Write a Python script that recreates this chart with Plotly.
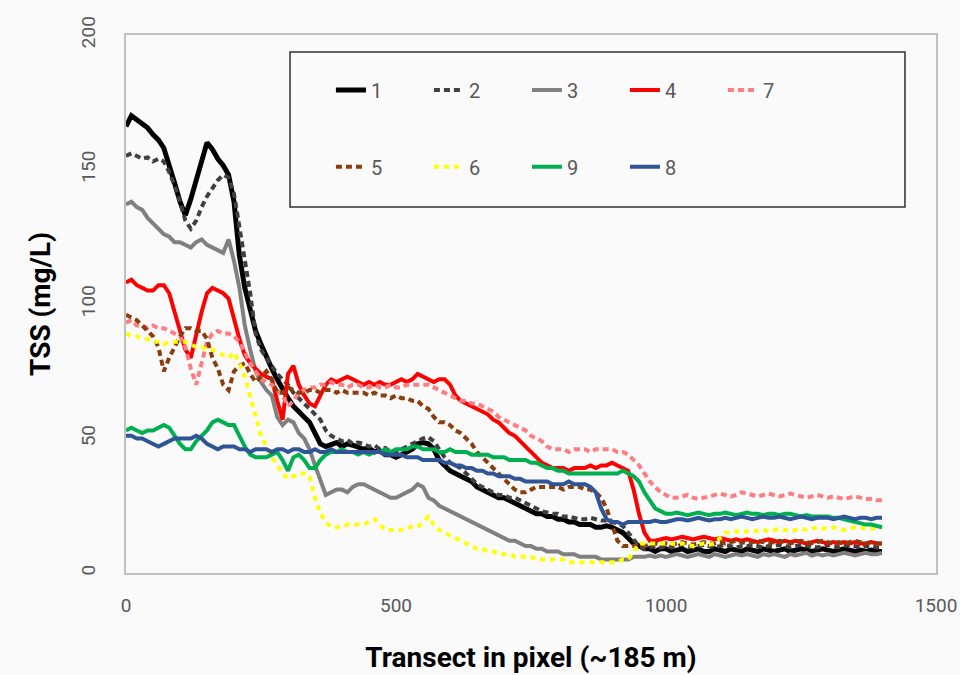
import plotly.graph_objects as go

# Transect positions (pixels), sampled every 10 px
transect_px = list(range(0, 1401, 10))

tss_1 = [166, 170, 168.5, 167, 165.5, 163, 161, 158, 152, 145,
         138, 133, 139, 146, 153, 160, 157.5, 154, 151.5, 148,
         138, 118, 106, 97, 90, 85, 80, 76, 72, 68,
         65, 62, 60, 58, 56, 52, 48, 47, 48, 48.5,
         47, 48, 47.5, 46.5, 46, 46.5, 45, 45.5, 44, 44,
         43, 44, 45, 46, 48, 48.5, 48, 46, 42, 40,
         38, 37, 36, 35, 34, 32, 31, 30, 29, 28,
         28, 27, 26, 25, 24, 23, 22, 22, 21, 21,
         20, 20, 19, 19, 18, 18, 18, 17, 17, 17.5,
         17, 16, 15, 13, 11, 10, 9, 9, 8, 9,
         9, 8, 8.5, 9, 8, 8.5, 9, 8, 8, 9,
         8.5, 8, 9, 8.5, 8, 9, 8.5, 8, 9, 8.5,
         8, 8.5, 9, 8, 8.5, 9, 8.5, 8, 8.5, 9,
         8.5, 8, 8.5, 9, 8.5, 8, 8.5, 8, 8.5, 8,
         8]

tss_2 = [155, 156, 155, 154, 154.5, 153, 154, 153, 149, 144,
         138, 131, 128, 131, 136, 140, 143, 146, 148, 147,
         141, 129, 115, 104, 89, 83, 80, 77, 74, 72,
         70, 67, 65, 63, 61, 59, 57, 53, 51, 50,
         49, 49.5, 48, 48.5, 48, 47, 47.5, 46, 46.5, 45,
         45, 46, 47, 48, 49, 50, 50.5, 49, 46, 43,
         41, 40, 39, 37, 35, 33, 32, 31, 30, 29,
         29, 28, 28, 27, 26, 25, 24, 23, 22.5, 22,
         22, 21, 21, 20.5, 20, 20, 20.5, 20, 19.5, 19.5,
         19, 18.5, 17.5, 15, 13, 10, 9, 9.5, 10, 9.5,
         10, 9.5, 10, 10.5, 10, 9.5, 10, 10.5, 10, 9.5,
         10, 10.5, 10, 9.5, 10, 10, 10.5, 10, 9.5, 10,
         10, 10.5, 10, 9.5, 10, 10.5, 10, 10, 9.5, 10,
         10.5, 10, 9.5, 10, 10.5, 10, 9.5, 10, 10, 9.5,
         9.5]

tss_3 = [137, 138, 136, 135, 132, 130, 128, 126, 125, 123,
         123, 122, 121, 123, 124, 122, 121, 120, 119, 124,
         116, 106, 92, 83, 75, 71, 68, 66, 58, 55,
         57, 56, 52, 50, 46, 40, 34, 29, 30, 31,
         31, 30, 32, 33, 33, 32, 31, 30, 29, 28,
         28, 29, 30, 31, 33, 32, 28, 27, 25, 24,
         23, 22, 21, 20, 19, 18, 17, 16, 15, 14,
         13, 12, 12, 11, 10, 10, 9, 9, 8, 8,
         8, 7, 7, 7, 6, 6, 6, 6, 5, 5,
         5, 5, 5, 5, 6, 6, 6, 6.5, 6, 6.5,
         6, 6.5, 7, 6.5, 6, 6.5, 7, 6.5, 6, 7,
         6.5, 6, 6.5, 7, 6.5, 7, 6.5, 6, 7, 6.5,
         7, 6.5, 6, 7, 6.5, 7, 7.5, 6.5, 7, 6.5,
         7, 6.5, 7, 7.5, 7, 6.5, 7, 7.5, 7, 7,
         7.5]

tss_4 = [108, 109, 107, 106, 105, 105, 107, 107, 104, 97,
         90, 83, 80, 89, 97, 104, 106, 105, 104, 102,
         94, 87, 81, 78, 76, 74, 73, 72, 64, 57,
         74, 77, 70, 66, 63, 62, 66, 70, 72, 71,
         72, 73, 72, 71, 70, 71, 70, 71, 70, 70,
         71, 72, 71, 72, 74, 73, 72, 71, 72, 72,
         70, 66, 64, 63, 62, 61, 60, 59, 57, 56,
         54, 52, 51, 49, 47, 45, 43, 41, 40, 39,
         39, 39, 38, 39, 39, 39, 40, 39, 40, 40,
         41, 40, 39, 38, 31, 22, 15, 12, 12, 12.5,
         13, 12.5, 13, 13.5, 13, 12.5, 13, 13.5, 13, 12.5,
         13, 12.5, 12, 12.5, 12, 12.5, 12, 11.5, 12, 12.5,
         12, 11.5, 12, 11.5, 12, 11.5, 11, 11.5, 12, 11.5,
         11, 11.5, 11, 11.5, 11, 11.5, 11, 11, 11.5, 11,
         11]

tss_7 = [93, 94, 92, 92, 91, 92, 91, 91, 90, 89,
         88, 84, 76, 70, 78, 86, 89, 90, 89, 89,
         88, 86, 82, 78, 75, 72, 71, 70, 68, 66,
         62, 64, 67, 68, 69, 69, 70, 70, 71, 70,
         70, 69, 70, 70, 69, 69, 70, 69, 69, 70,
         69, 69, 70, 70, 70, 70, 70, 69, 68, 67,
         66, 65, 64, 64, 63, 63, 62, 61, 60, 58,
         57, 56, 55, 54, 53, 51, 50, 49, 47, 46,
         46, 46, 45, 46, 46, 46, 45, 46, 46, 46,
         46, 45, 45, 44, 42, 40, 37, 34, 32, 30,
         29, 28, 28, 28.5, 29, 28, 27.5, 28, 28.5, 29,
         29.5, 29, 28.5, 29, 30, 29.5, 29, 28.5, 29, 29.5,
         29, 28.5, 29, 29.5, 29, 28.5, 28, 28.5, 29, 28.5,
         28, 28.5, 28, 27.5, 28, 28.5, 28, 27.5, 27.5, 27,
         27]

tss_5 = [96, 95, 94, 92, 90, 88, 84, 75, 80, 84,
         88, 91, 91, 90, 90, 87, 80, 76, 70, 68,
         75, 77, 78, 74, 71, 73, 75, 72, 67, 67,
         69, 68, 67, 67, 68, 68, 67, 68, 68, 67,
         68, 67, 67, 67, 67, 66, 67, 66, 66, 65,
         66, 65, 65, 64, 64, 62, 61, 58, 56, 56,
         55, 53, 52, 50, 48, 45, 43, 41, 39, 37,
         35, 33, 31, 30, 30, 31, 32, 32, 32, 32,
         32, 31, 32, 32, 32, 31, 31, 30, 28, 24,
         18, 12, 10, 10, 10, 10.5, 10, 10.5, 11, 10.5,
         11, 10.5, 11, 11.5, 11, 10.5, 11, 11.5, 11, 11,
         11.5, 11, 11.5, 12, 11.5, 11, 11.5, 12, 11.5, 11,
         11.5, 12, 11.5, 11, 11.5, 12, 11.5, 11, 11.5, 12,
         11.5, 11, 11.5, 11, 11.5, 12, 11.5, 11, 11.5, 11,
         11]

tss_6 = [89, 88, 88, 87, 87, 86, 86, 85, 86, 86,
         86, 86, 85, 84, 84, 83, 83, 82, 81, 80,
         82, 78, 73, 66, 58, 51, 47, 43, 40, 37,
         35, 36, 37, 37, 36, 28, 22, 19, 17, 17,
         17, 18, 18, 18, 18, 19, 20, 18, 16, 16,
         16, 16, 17, 17, 17, 19, 21, 18, 16, 15,
         14, 13, 12, 11, 10, 9, 9, 8, 8, 7,
         7, 7, 6, 6, 6, 6, 5, 5, 5, 5,
         5, 5, 4, 4, 4, 4, 4, 4, 4, 4,
         4, 4, 5, 5, 8, 11, 11, 11, 11, 11,
         11, 11, 10.5, 11, 10.5, 10, 10.5, 11, 10.5, 11,
         13, 15, 15, 15.5, 15, 15.5, 16, 15.5, 16, 15.5,
         16, 16.5, 16, 15.5, 16, 16.5, 16, 16.5, 17, 16.5,
         16.5, 17, 16.5, 16, 16.5, 17, 16.5, 17, 16.5, 16.5,
         17]

tss_9 = [53, 54, 53, 52, 53, 53, 54, 55, 54, 51,
         48, 46, 46, 49, 51, 53, 56, 57, 56, 55,
         55, 51, 47, 44, 43, 43, 43, 44, 45, 42,
         38, 43, 44, 42, 39, 39, 42, 44, 45, 45,
         46, 45, 45, 44, 45, 44, 45, 45, 46, 45,
         46, 46, 46, 47, 47, 46, 46, 46, 45, 45,
         46, 45, 45, 45, 44, 44, 44, 44, 43, 43,
         43, 42, 42, 42, 42, 41, 41, 40, 39, 39,
         38, 38, 37, 37, 37, 37, 37, 37, 37, 37,
         37, 37, 38, 37, 36, 34, 30, 27, 24, 23,
         22, 22, 22.5, 22, 21.5, 22, 22.5, 22, 21.5, 22,
         22, 22.5, 22, 21.5, 22, 22.5, 22, 22, 21.5, 22,
         22, 21.5, 22, 22, 21.5, 21, 21.5, 21, 21, 21,
         21, 20.5, 20.5, 20, 19.5, 19, 18.5, 18, 18, 17.5,
         17]

tss_8 = [51, 51, 50, 50, 49, 48, 47, 48, 49, 50,
         50, 50, 50, 51, 50, 48, 47, 46, 47, 47,
         47, 46, 46, 45, 46, 46, 46, 45, 46, 46,
         45, 46, 46, 45, 45, 46, 45, 45, 46, 45,
         45, 45, 45, 45, 45, 45, 45, 45, 44, 44,
         44, 44, 43, 43, 43, 42, 42, 42, 42, 41,
         41, 40, 40, 39, 39, 38, 38, 37, 37, 36,
         36, 36, 35, 35, 34, 34, 34, 34, 34, 33,
         33, 33, 34, 33, 33, 33, 32, 30, 24, 20,
         19, 19, 18, 19, 19, 19, 19, 19, 19.5, 19,
         19, 19.5, 20, 20, 19.5, 20, 20.5, 20, 19.5, 20,
         20, 20.5, 20, 20.5, 21, 20.5, 20, 20.5, 21, 20.5,
         20.5, 21, 20.5, 20, 20.5, 21, 20.5, 20, 20.5, 20.5,
         20.5, 20, 20.5, 21, 20.5, 20, 20.5, 20.5, 20, 20.5,
         20.5]

x_ticks = [0, 500, 1000, 1500]
y_ticks = [0, 50, 100, 150, 200]

# (name, values, colour, width, dash, legend row)
series = [
    ("1", tss_1, "#000000", 5, "solid", "legend"),
    ("2", tss_2, "#404040", 4, "6px,4px", "legend"),
    ("3", tss_3, "#808080", 4, "solid", "legend"),
    ("4", tss_4, "#ff0000", 4, "solid", "legend"),
    ("7", tss_7, "#ff7c80", 4, "6px,4px", "legend"),
    ("5", tss_5, "#8b3d0c", 4, "6px,4px", "legend2"),
    ("6", tss_6, "#ffff00", 4, "5px,5px", "legend2"),
    ("9", tss_9, "#00b050", 4, "solid", "legend2"),
    ("8", tss_8, "#2f5597", 4, "solid", "legend2"),
]

fig = go.Figure()
for name, vals, color, width, dash, leg in series:
    fig.add_trace(go.Scatter(
        x=transect_px, y=vals, name=name, mode="lines",
        line=dict(color=color, width=width, dash=dash),
        legend=leg,
    ))

base_font = "Roboto, Open Sans, sans-serif"
legend_style = dict(
    orientation="h", xanchor="left", yanchor="middle",
    bgcolor="rgba(0,0,0,0)", borderwidth=0,
    entrywidth=53, entrywidthmode="pixels",
    font=dict(family=base_font, size=20, color="#595959"),
)

fig.update_layout(
    width=960, height=675,
    margin=dict(l=126, r=24, t=35, b=102, autoexpand=False),
    paper_bgcolor="#fafafa", plot_bgcolor="#fafafa",
    font=dict(family=base_font, color="#595959"),
    showlegend=True,
    legend=dict(x=0.253, y=0.898, **legend_style),
    legend2=dict(x=0.253, y=0.755, **legend_style),
    xaxis=dict(
        range=[0, 1500], tickvals=x_ticks, showgrid=False, zeroline=False,
        automargin=False,
        showline=True, mirror=True, linecolor="#c0c0c0", linewidth=1.5,
        ticks="", ticklabelstandoff=14, tickfont=dict(size=19, color="#595959"),
        title=dict(text="Transect in pixel (~185 m)",
                   font=dict(size=28, color="#000000", family=base_font, weight="bold"),
                   standoff=32),
    ),
    yaxis=dict(
        range=[0, 200], tickvals=y_ticks, showgrid=False, zeroline=False,
        automargin=False,
        showline=True, mirror=True, linecolor="#c0c0c0", linewidth=1.5,
        ticks="", tickangle=-90, ticklabelstandoff=22,
        tickfont=dict(size=19, color="#595959"),
        title=dict(text="TSS (mg/L)",
                   font=dict(size=28, color="#000000", family=base_font, weight="bold"),
                   standoff=18),
    ),
    shapes=[dict(
        type="rect", xref="paper", yref="paper",
        x0=0.2025, x1=0.9617, y0=0.6803, y1=0.9684,
        line=dict(color="#303030", width=1.5), fillcolor="rgba(0,0,0,0)",
    )],
)

fig.write_html("out.html")
